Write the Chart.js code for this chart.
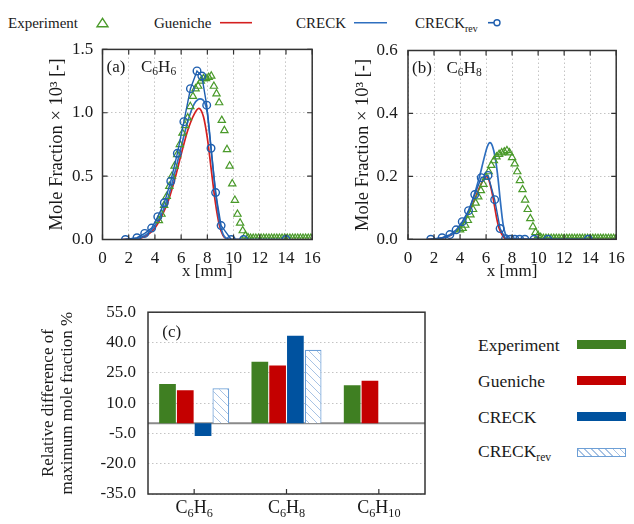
<!DOCTYPE html>
<html><head><meta charset="utf-8">
<script src="https://cdn.jsdelivr.net/npm/chart.js@4.4.0/dist/chart.umd.min.js"></script>
<style>
html,body{margin:0;padding:0;background:#fff;}
body{width:634px;height:524px;position:relative;overflow:hidden;font-family:'Liberation Serif','Times New Roman',serif;color:#1a1a1a;}
canvas{position:absolute;}
.lg{position:absolute;white-space:nowrap;}
.sub{font-size:0.66em;position:relative;top:0.38em;}
.sw{position:absolute;width:49px;height:9px;}
</style></head><body>

<svg style="position:absolute;left:0;top:0" width="634" height="40">
 <polygon points="102.5,18.3 97,26.7 108,26.7" fill="none" stroke="#4a9a2a" stroke-width="1.4"/>
 <line x1="220" y1="22.7" x2="252" y2="22.7" stroke="#d42020" stroke-width="1.6"/>
 <line x1="354" y1="22.7" x2="387" y2="22.7" stroke="#2e6fbf" stroke-width="1.6"/>
 <line x1="488" y1="22.7" x2="500" y2="22.7" stroke="#1f5faf" stroke-width="1.6"/>
 <circle cx="497" cy="22.7" r="3" fill="#fff" stroke="#1f5faf" stroke-width="1.4"/>
</svg>
<div class="lg" style="left:8px;top:13px;font-size:15px;line-height:20px">Experiment</div>
<div class="lg" style="left:154px;top:13px;font-size:15px;line-height:20px">Gueniche</div>
<div class="lg" style="left:296px;top:13px;font-size:15px;line-height:20px">CRECK</div>
<div class="lg" style="left:415px;top:13px;font-size:15px;line-height:20px">CRECK<span class="sub">rev</span></div>

<div class="lg" style="left:478px;top:334px;font-size:17.5px;line-height:22px">Experiment</div>
<div class="lg" style="left:478px;top:370px;font-size:17.5px;line-height:22px">Gueniche</div>
<div class="lg" style="left:478px;top:406px;font-size:17.5px;line-height:22px">CRECK</div>
<div class="lg" style="left:478px;top:440px;font-size:17.5px;line-height:22px">CRECK<span class="sub">rev</span></div>
<div class="sw" style="left:577px;top:340px;background:#3f7f22"></div>
<div class="sw" style="left:577px;top:376px;background:#c40000"></div>
<div class="sw" style="left:577px;top:412px;background:#00529f"></div>
<div class="sw" style="left:577px;top:448px;width:47px;height:7px;border:1px solid #6d9fd6;background:repeating-linear-gradient(45deg,#fff 0,#fff 4px,#a8c3e4 4px,#a8c3e4 5px)"></div>

<canvas id="cA" width="330" height="258" style="left:0;top:30px"></canvas>
<canvas id="cB" width="314" height="258" style="left:320px;top:30px"></canvas>
<canvas id="cC" width="440" height="234" style="left:0;top:290px"></canvas>

<script>
// ---------- DATA ----------
// Panel (a) C6H6
const expAx = [4.3,4.5,4.7,4.9,5.1,5.3,5.5,5.7,5.9,6.1,6.3,6.5,6.7,6.9,7.1,7.3,7.5,7.7,7.9,8.1,8.3,8.5,8.7,8.9,9.1,9.3,9.5,9.7,9.9,10.1,10.3,10.5,10.7,10.9,11.1,
  11.3,11.5,11.7,11.9,12.1,12.3,12.5,12.7,12.9,13.1,13.3,13.5,13.7,13.9,14.1,14.3,14.5,14.7,14.9,15.1,15.3,15.5,15.7,15.9];
const expAy = [0.15,0.2,0.27,0.34,0.42,0.5,0.58,0.67,0.75,0.84,0.9,0.96,1.05,1.13,1.19,1.21,1.25,1.27,1.27,1.28,1.29,1.21,1.15,1.08,0.94,0.86,0.71,0.58,0.44,0.31,0.2,0.13,0.07,0.03,0.015,
  0.01,0.01,0.01,0.01,0.01,0.01,0.01,0.01,0.01,0.01,0.01,0.01,0.01,0.01,0.01,0.01,0.01,0.01,0.01,0.01,0.01,0.01,0.01,0.01];
const gueAx = [1.5,2.5,3.0,3.5,4.0,4.5,5.0,5.5,6.0,6.5,7.0,7.35,7.7,8.0,8.3,8.6,8.9,9.2,9.5,9.8,16];
const gueAy = [0,0.003,0.015,0.04,0.09,0.18,0.3,0.47,0.67,0.86,0.99,1.035,0.97,0.8,0.55,0.3,0.12,0.03,0.005,0,0];
const creckAx = [1.5,2.5,3.0,3.5,4.0,4.5,5.0,5.5,6.0,6.5,7.0,7.45,7.8,8.0,8.3,8.6,8.9,9.2,9.5,9.8,16];
const creckAy = [0,0.005,0.02,0.05,0.11,0.2,0.33,0.52,0.73,0.93,1.07,1.11,1.08,1.0,0.7,0.4,0.16,0.04,0.005,0,0];
const revAx = [1.75,2.63,3.22,3.75,4.22,4.72,5.21,5.71,6.21,6.71,7.21,7.58,7.95,8.28,8.63,9.05,9.82,10.77,14.0];
const revAy = [0,0.014,0.048,0.09,0.18,0.29,0.46,0.68,0.93,1.19,1.33,1.29,1.06,0.72,0.37,0.11,0,0,0];
// Panel (b) C6H8
const expBx = [4.0,4.2,4.4,4.6,4.8,5.0,5.2,5.4,5.6,5.8,6.0,6.2,6.4,6.6,6.8,7.0,7.2,7.4,7.6,7.8,8.0,8.2,8.4,8.6,8.8,9.0,9.2,9.4,9.6,9.8,10.0,10.2,
  10.4,10.6,10.8,11.0,11.2,11.4,11.6,11.8,12.0,12.2,12.4,12.6,12.8,13.0,13.2,13.4,13.6,13.8,14.0,14.2,14.4,14.6,14.8,15.0,15.2,15.4,15.6,15.8,16.0];
const expBy = [0.03,0.035,0.045,0.06,0.078,0.095,0.115,0.135,0.155,0.175,0.197,0.215,0.235,0.25,0.262,0.27,0.275,0.278,0.282,0.275,0.26,0.24,0.215,0.187,0.158,0.125,0.095,0.066,0.04,0.022,0.012,0.006,
  0.003,0.003,0.003,0.003,0.003,0.003,0.003,0.003,0.003,0.003,0.003,0.003,0.003,0.003,0.003,0.003,0.003,0.003,0.003,0.003,0.003,0.003,0.003,0.003,0.003,0.003,0.003,0.003,0.003];
const gueBx = [1.5,2.5,3.0,3.5,4.0,4.5,5.0,5.5,5.8,6.0,6.2,6.5,6.8,7.0,7.3,7.6,16];
const gueBy = [0,0.003,0.008,0.018,0.038,0.07,0.115,0.165,0.19,0.2,0.19,0.14,0.07,0.035,0.01,0,0];
const creckBx = [1.5,2.5,3.0,3.5,4.0,4.5,5.0,5.5,5.8,6.1,6.3,6.5,6.7,6.9,7.1,7.3,7.5,7.8,8.2,16];
const creckBy = [0,0.003,0.008,0.018,0.04,0.075,0.13,0.2,0.25,0.295,0.307,0.295,0.26,0.2,0.12,0.05,0.015,0.002,0,0];
const revBx = [1.75,2.62,3.22,3.7,4.17,4.65,5.13,5.63,6.15,6.66,7.08,7.5,7.87,8.21,8.58,8.98,9.69,10.75,13.85];
const revBy = [0,0.005,0.015,0.03,0.056,0.091,0.142,0.196,0.203,0.126,0.034,0.002,0,0,0,0,0,0,0];
// Panel (c) relative difference of maximum mole fraction, %
const categories = ['C6H6','C6H8','C6H10'];
const barExp = [19.5, 30.5, 18.8];
const barGue = [16.4, 28.6, 21.1];
const barCreck = [-6.3, 43.4, null];
const barRev = [17.3, 36.4, null];
const seriesNames = ['Experiment','Gueniche','CRECK','CRECKrev'];

// ---------- STYLE ----------
const F = "'Liberation Serif','Times New Roman',serif";
const TXT = '#1a1a1a';
const GREEN_PT = '#4a9a2a', RED_L = '#d42020', BLUE_L = '#2e6fbf', BLUE_R = '#1f5faf';
const GREEN_B = '#3f7f22', RED_B = '#c40000', BLUE_B = '#00529f';

function drawFormula(ctx, text, x, y, size, align) {
  const runs = text.match(/[A-Za-z()]+|\d+/g);
  const sub = size * 0.68;
  let w = 0;
  runs.forEach(r => { ctx.font = (/\d/.test(r) ? sub : size) + 'px ' + F; w += ctx.measureText(r).width; });
  let cx = align === 'center' ? x - w / 2 : x;
  ctx.textBaseline = 'middle'; ctx.textAlign = 'left'; ctx.fillStyle = TXT;
  runs.forEach(r => {
    const isSub = /\d/.test(r);
    ctx.font = (isSub ? sub : size) + 'px ' + F;
    ctx.fillText(r, cx, isSub ? y + size * 0.3 : y);
    cx += ctx.measureText(r).width;
  });
}

function framePlugin(tag, species) {
  return { id: 'frame' + tag, afterDraw(chart) {
    const { ctx, chartArea: a, scales } = chart;
    ctx.save();
    ctx.strokeStyle = '#333'; ctx.lineWidth = 1.2;
    ctx.beginPath();
    scales.x.ticks.forEach(t => { const p = scales.x.getPixelForValue(t.value);
      ctx.moveTo(p, a.bottom); ctx.lineTo(p, a.bottom - 5); ctx.moveTo(p, a.top); ctx.lineTo(p, a.top + 5); });
    scales.y.ticks.forEach(t => { const p = scales.y.getPixelForValue(t.value);
      ctx.moveTo(a.left, p); ctx.lineTo(a.left + 5, p); ctx.moveTo(a.right, p); ctx.lineTo(a.right - 5, p); });
    ctx.stroke();
    ctx.lineWidth = 1.5;
    ctx.strokeRect(a.left, a.top, a.right - a.left, a.bottom - a.top);
    ctx.textBaseline = 'middle'; ctx.textAlign = 'left'; ctx.fillStyle = TXT;
    ctx.font = '17px ' + F;
    ctx.fillText(tag, a.left + 4, a.top + 17.7);
    drawFormula(ctx, species, a.left + 38.5, a.top + 17.7, 17, 'left');
    ctx.restore();
  }};
}

const pts = (xs, ys) => xs.map((x, i) => ({ x: x, y: ys[i] }));

function lineChart(id, data, yMax, yStep, geo, tag, species) {
  const ctx = document.getElementById(id).getContext('2d');
  return new Chart(ctx, {
    type: 'scatter',
    data: { datasets: [
      { label: seriesNames[0], data: pts(data.ex, data.ey), showLine: false, pointStyle: 'triangle', pointRadius: 4.2,
        borderColor: GREEN_PT, backgroundColor: 'rgba(255,255,255,0)', borderWidth: 1.2, order: 1 },
      { label: seriesNames[1], data: pts(data.gx, data.gy), showLine: true, borderColor: RED_L, borderWidth: 1.7,
        pointRadius: 0, cubicInterpolationMode: 'monotone', order: 3 },
      { label: seriesNames[2], data: pts(data.cx, data.cy), showLine: true, borderColor: BLUE_L, borderWidth: 1.7,
        pointRadius: 0, cubicInterpolationMode: 'monotone', order: 2 },
      { label: seriesNames[3], data: pts(data.rx, data.ry), showLine: true, borderColor: BLUE_R, borderWidth: 1.4,
        pointRadius: 3.8, pointBorderWidth: 1.4, pointBackgroundColor: 'rgba(255,255,255,0)', pointBorderColor: BLUE_R, tension: 0, order: 0 }
    ]},
    options: {
      responsive: false, animation: false, devicePixelRatio: 1,
      layout: { padding: { left: 0, top: geo.top, right: geo.right, bottom: 0 } },
      plugins: { legend: { display: false }, tooltip: { enabled: false } },
      scales: {
        x: { type: 'linear', min: 0, max: 16,
          ticks: { stepSize: 2, padding: 9.3, font: { family: F, size: 17 }, color: TXT, maxRotation: 0, autoSkip: false },
          grid: { color: '#c4c4c4', lineWidth: 1, drawTicks: false }, border: { display: false, dash: [1.5, 2.5] },
          title: { display: true, text: 'x [mm]', font: { family: F, size: 17 }, color: TXT, padding: { top: 0, bottom: 5.8 } },
          afterFit: s => { s.height = geo.xh; } },
        y: { type: 'linear', min: 0, max: yMax,
          ticks: { stepSize: yStep, padding: geo.ypad, font: { family: F, size: 17 }, color: TXT, callback: v => v.toFixed(1) },
          grid: { color: '#c4c4c4', lineWidth: 1, drawTicks: false }, border: { display: false, dash: [1.5, 2.5] },
          title: { display: true, text: 'Mole Fraction × 10³ [-]', font: { family: F, size: 18.5 }, color: TXT, padding: { top: geo.ytp, bottom: 0 } },
          afterFit: s => { s.width = geo.yw; } }
      }
    },
    plugins: [framePlugin(tag, species)]
  });
}

lineChart('cA', { ex: expAx, ey: expAy, gx: gueAx, gy: gueAy, cx: creckAx, cy: creckAy, rx: revAx, ry: revAy },
  1.5, 0.5, { top: 17.3, right: 13.3, xh: 48.5, yw: 102.5, ypad: 9.2, ytp: 45.6 }, '(a)', 'C6H6');
lineChart('cB', { ex: expBx, ey: expBy, gx: gueBx, gy: gueBy, cx: creckBx, cy: creckBy, rx: revBx, ry: revBy },
  0.6, 0.2, { top: 18, right: 10, xh: 48.7, yw: 88, ypad: 10.3, ytp: 31.6 }, '(b)', 'C6H8');

// ---------- BAR CHART ----------
const cC = document.getElementById('cC').getContext('2d');
function makeHatch() {
  const c = document.createElement('canvas'); c.width = 8; c.height = 8;
  const g = c.getContext('2d');
  g.fillStyle = '#fff'; g.fillRect(0, 0, 8, 8);
  g.strokeStyle = '#a8c3e4'; g.lineWidth = 1;
  g.beginPath(); g.moveTo(0, 0); g.lineTo(8, 8); g.moveTo(-4, 4); g.lineTo(4, 12); g.moveTo(4, -4); g.lineTo(12, 4); g.stroke();
  return cC.createPattern(c, 'repeat');
}
const barCommon = { categoryPercentage: 0.77, barPercentage: 0.94 };
const barPlugin = { id: 'barFrame',
  beforeDatasetsDraw(chart) {
    const { ctx, chartArea: a, scales } = chart;
    const z = scales.y.getPixelForValue(0);
    ctx.save(); ctx.strokeStyle = '#8a8a8a'; ctx.lineWidth = 2;
    ctx.beginPath(); ctx.moveTo(a.left, z); ctx.lineTo(a.right, z); ctx.stroke(); ctx.restore();
  },
  afterDraw(chart) {
    const { ctx, chartArea: a, scales } = chart;
    ctx.save();
    ctx.strokeStyle = '#333'; ctx.lineWidth = 1.2;
    ctx.beginPath();
    categories.forEach((c, i) => { const p = scales.x.getPixelForValue(i); ctx.moveTo(p, a.bottom); ctx.lineTo(p, a.bottom - 5); });
    ctx.stroke();
    ctx.lineWidth = 1.5;
    ctx.strokeRect(a.left, a.top, a.right - a.left, a.bottom - a.top);
    categories.forEach((c, i) => drawFormula(ctx, c, scales.x.getPixelForValue(i), a.bottom + 14, 18, 'center'));
    ctx.font = '17px ' + F; ctx.fillStyle = TXT; ctx.textAlign = 'left'; ctx.textBaseline = 'middle';
    ctx.fillText('(c)', a.left + 14.3, a.top + 20.7);
    ctx.restore();
  }
};
new Chart(cC, {
  type: 'bar',
  data: { labels: categories, datasets: [
    Object.assign({ label: seriesNames[0], data: barExp, backgroundColor: GREEN_B }, barCommon),
    Object.assign({ label: seriesNames[1], data: barGue, backgroundColor: RED_B }, barCommon),
    Object.assign({ label: seriesNames[2], data: barCreck, backgroundColor: BLUE_B }, barCommon),
    Object.assign({ label: seriesNames[3], data: barRev, backgroundColor: makeHatch(), borderColor: '#6d9fd6', borderWidth: 1.2 }, barCommon)
  ]},
  options: {
    responsive: false, animation: false, devicePixelRatio: 1,
    layout: { padding: { left: 0, top: 12.3, right: 15, bottom: 0 } },
    plugins: { legend: { display: false }, tooltip: { enabled: false } },
    scales: {
      x: { ticks: { display: false }, grid: { display: false, drawTicks: false }, border: { display: false },
        afterFit: s => { s.height = 30; } },
      y: { min: -35, max: 55,
        ticks: { stepSize: 15, padding: 12, font: { family: F, size: 17 }, color: TXT, callback: v => v.toFixed(1) },
        grid: { color: '#c4c4c4', lineWidth: 1, drawTicks: false }, border: { display: false, dash: [1.5, 2.5] },
        title: { display: true, text: ['Relative difference of', 'maximum mole fraction %'],
          font: { family: F, size: 17, lineHeight: 1.1 }, color: TXT, padding: { top: 39.6, bottom: 0 } },
        afterFit: s => { s.width = 148; } }
    }
  },
  plugins: [barPlugin]
});
</script>
</body></html>
